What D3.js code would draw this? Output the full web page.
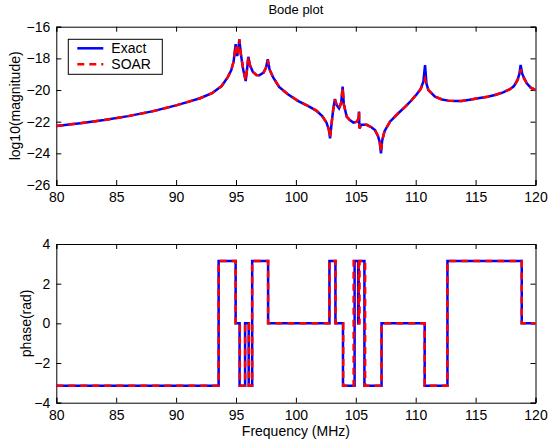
<!DOCTYPE html>
<html>
<head>
<meta charset="utf-8">
<script src="https://cdn.jsdelivr.net/npm/d3@7"></script>
<style>
  body { margin: 0; background: #fff; }
  svg { display: block; font-family: "Liberation Sans", Arial, Helvetica, sans-serif; }
</style>
</head>
<body>
<script>
// frequency samples (MHz) for the magnitude curve
const freq = [80, 82, 84, 86, 88, 90, 91, 92, 93, 93.8, 94.3, 94.6, 94.8, 94.97, 95.1, 95.2, 95.28, 95.4, 95.6,
  95.81, 95.95, 96.03, 96.15, 96.4, 96.7, 96.95, 97.3, 97.5, 97.65, 97.8, 98.1, 98.6, 99.3, 100.2, 101, 101.7,
  102.2, 102.55, 102.75, 102.85, 102.98, 103.12, 103.26, 103.4, 103.6, 103.78, 103.9, 104.0, 104.24, 104.5,
  104.8, 105.1, 105.22, 105.27, 105.3, 105.45, 105.91, 106.3, 106.6, 106.85, 107.0, 107.1, 107.2, 107.4,
  107.85, 108.5, 109.2, 109.67, 110.1, 110.4, 110.64, 110.78, 110.9, 111.06, 111.61, 112.2, 112.72, 113.3,
  113.84, 114.5, 115.22, 116, 116.62, 117.3, 117.87, 118.2, 118.5, 118.65, 118.76, 118.9, 119.27, 119.6, 120];

const magExact = [-22.27, -22.1, -21.9, -21.65, -21.35, -20.97, -20.75, -20.52, -20.2, -19.75, -19.2, -18.75, -18.2,
  -17.1, -17.85, -17.4, -16.8, -17.7, -18.7, -19.43, -18.5, -17.9, -18.4, -18.85, -19.05, -19.07, -18.9, -18.6,
  -18.06, -18.7, -19.2, -19.8, -20.25, -20.7, -21.0, -21.3, -21.65, -22.05, -22.5, -23.05, -22.1, -21.2, -20.57,
  -20.95, -21.16, -20.8, -19.79, -20.9, -21.68, -21.9, -22.06, -22.0, -21.8, -21.36, -22.42, -22.2, -22.2, -22.35,
  -22.53, -22.9, -23.3, -24.0, -23.2, -22.6, -22.0, -21.5, -21.0, -20.63, -20.25, -19.95, -19.47, -18.42, -19.6,
  -20.0, -20.42, -20.6, -20.67, -20.7, -20.69, -20.62, -20.52, -20.42, -20.31, -20.15, -19.95, -19.75, -19.35,
  -19.0, -18.42, -19.0, -19.58, -19.85, -20.0];

const magSoar = [-22.27, -22.1, -21.9, -21.65, -21.35, -20.97, -20.75, -20.52, -20.2, -19.75, -19.2, -18.75, -18.2,
  -17.2, -17.85, -17.4, -16.8, -17.7, -18.7, -19.4, -18.5, -17.9, -18.4, -18.85, -19.05, -19.07, -18.9, -18.6,
  -18.1, -18.7, -19.2, -19.8, -20.25, -20.7, -21.0, -21.3, -21.65, -22.05, -22.5, -23.0, -22.1, -21.2, -20.6,
  -20.95, -21.16, -20.8, -19.85, -20.9, -21.68, -21.9, -22.06, -22.0, -21.8, -21.4, -22.42, -22.2, -22.2, -22.35,
  -22.53, -22.9, -23.3, -23.9, -23.2, -22.6, -22.0, -21.5, -21.0, -20.63, -20.25, -19.95, -19.6, -19.3, -19.7,
  -20.0, -20.42, -20.6, -20.67, -20.7, -20.69, -20.62, -20.52, -20.42, -20.31, -20.15, -19.95, -19.75, -19.4,
  -19.1, -18.7, -19.1, -19.58, -19.85, -20.0];

// phase is piecewise constant: level holds from each start frequency to the next
const PI = 3.14159;
const phaseFreqExact = [80, 93.55, 94.97, 95.3, 95.76, 96.06, 96.35, 97.68, 102.8, 103.3, 103.93, 104.9,
  105.2, 105.25, 105.72, 107.15, 110.75, 112.65, 118.85, 120];
const phaseExact = [-PI, PI, 0, -PI, 0, -PI, PI, 0, PI, 0, -PI, PI, 0, PI, -PI, 0, -PI, PI, 0, 0];

const phaseFreqSoar = [80, 93.55, 94.97, 95.32, 95.76, 96.08, 96.35, 97.68, 102.8, 103.32, 103.95, 104.82,
  105.25, 105.31, 105.78, 107.15, 110.75, 112.65, 118.85, 120];
const phaseSoar = [-PI, PI, 0, -PI, 0, -PI, PI, 0, PI, 0, -PI, PI, 0, PI, -PI, 0, -PI, PI, 0, 0];

const xTicks = [80, 85, 90, 95, 100, 105, 110, 115, 120];
const magTicks = [-26, -24, -22, -20, -18, -16];
const phaseTicks = [-4, -2, 0, 2, 4];

const width = 549, height = 443;
const left = 56.3, right = 535.5;

const svg = d3.select("body").append("svg")
  .attr("width", width)
  .attr("height", height);

svg.append("rect").attr("width", width).attr("height", height).attr("fill", "#fff");

const x = d3.scaleLinear().domain([80, 120]).range([left, right]);
const yMag = d3.scaleLinear().domain([-26, -16]).range([185, 26.7]);
const yPh = d3.scaleLinear().domain([-4, 4]).range([402.7, 244]);

const fmt = d => (d < 0 ? "\u2212" + Math.abs(d) : "" + d);

function drawAxes(y, yTicks, id) {
  const [bottom, top] = y.range();
  const g = svg.append("g");

  // clip for the data lines
  svg.append("clipPath").attr("id", id)
    .append("rect").attr("x", left).attr("y", top).attr("width", right - left).attr("height", bottom - top);

  g.append("g").attr("transform", `translate(0,${bottom})`)
    .call(d3.axisBottom(x).tickValues(xTicks).tickSize(-5).tickPadding(6).tickFormat(d => d));
  g.append("g").attr("transform", `translate(0,${top})`)
    .call(d3.axisTop(x).tickValues(xTicks).tickSize(-5).tickFormat(""));
  g.append("g").attr("transform", `translate(${left},0)`)
    .call(d3.axisLeft(y).tickValues(yTicks).tickSize(-5).tickPadding(6).tickFormat(fmt));
  g.append("g").attr("transform", `translate(${right},0)`)
    .call(d3.axisRight(y).tickValues(yTicks).tickSize(-5).tickFormat(""));

  g.selectAll(".domain").attr("stroke", "#000").attr("stroke-width", 1);
  g.selectAll(".tick line").attr("stroke", "#000");
  g.selectAll(".tick text").attr("fill", "#000").style("font-size", "14px");
  g.selectAll(".tick text").filter(function () { return this.parentNode.parentNode.getAttribute("transform").startsWith("translate(0"); })
    .attr("dy", "0.8em");
  return g;
}

drawAxes(yMag, magTicks, "clipMag");
drawAxes(yPh, phaseTicks, "clipPh");

// magnitude curves
const magLine = vals => d3.line().x((d, i) => x(freq[i])).y(d => yMag(d))(vals);

svg.append("path")
  .attr("clip-path", "url(#clipMag)")
  .attr("d", magLine(magExact))
  .attr("fill", "none").attr("stroke", "#0000ff").attr("stroke-width", 2.5);

svg.append("path")
  .attr("clip-path", "url(#clipMag)")
  .attr("d", magLine(magSoar))
  .attr("fill", "none").attr("stroke", "#ff0000").attr("stroke-width", 2.5)
  .attr("stroke-dasharray", "7,5");

// phase curves
const phLine = (fs, vals) => d3.line().curve(d3.curveStepAfter)
  .x((d, i) => x(fs[i])).y(d => yPh(d))(vals);

svg.append("path")
  .attr("clip-path", "url(#clipPh)")
  .attr("d", phLine(phaseFreqExact, phaseExact))
  .attr("fill", "none").attr("stroke", "#0000ff").attr("stroke-width", 2.5);

svg.append("path")
  .attr("clip-path", "url(#clipPh)")
  .attr("d", phLine(phaseFreqSoar, phaseSoar))
  .attr("fill", "none").attr("stroke", "#ff0000").attr("stroke-width", 2.5)
  .attr("stroke-dasharray", "7,5");

// titles and labels
svg.append("text")
  .attr("x", (left + right) / 2).attr("y", 14)
  .attr("text-anchor", "middle").style("font-size", "13px")
  .text("Bode plot");

svg.append("text")
  .attr("transform", `translate(20,${(185 + 26.7) / 2}) rotate(-90)`)
  .attr("text-anchor", "middle").style("font-size", "14px")
  .text("log10(magnitude)");

svg.append("text")
  .attr("transform", `translate(31,${(402.7 + 244) / 2}) rotate(-90)`)
  .attr("text-anchor", "middle").style("font-size", "14px")
  .text("phase(rad)");

svg.append("text")
  .attr("x", (left + right) / 2).attr("y", 436)
  .attr("text-anchor", "middle").style("font-size", "14px")
  .text("Frequency (MHz)");

// legend
const legendData = [
  { label: "Exact", color: "#0000ff", dash: null },
  { label: "SOAR", color: "#ff0000", dash: "7,5" }
];
const legend = svg.append("g").attr("transform", "translate(68.3,39.3)");
legend.append("rect")
  .attr("width", 94).attr("height", 35)
  .attr("fill", "#fff").attr("stroke", "#000").attr("stroke-width", 1);
legend.selectAll("line")
  .data(legendData).enter().append("line")
  .attr("x1", 9).attr("x2", 35)
  .attr("y1", (d, i) => 9 + i * 16).attr("y2", (d, i) => 9 + i * 16)
  .attr("stroke", d => d.color).attr("stroke-width", 2.5)
  .attr("stroke-dasharray", d => d.dash);
legend.selectAll("text")
  .data(legendData).enter().append("text")
  .attr("x", 43).attr("y", (d, i) => 14 + i * 16)
  .style("font-size", "14px")
  .text(d => d.label);
</script>
</body>
</html>
